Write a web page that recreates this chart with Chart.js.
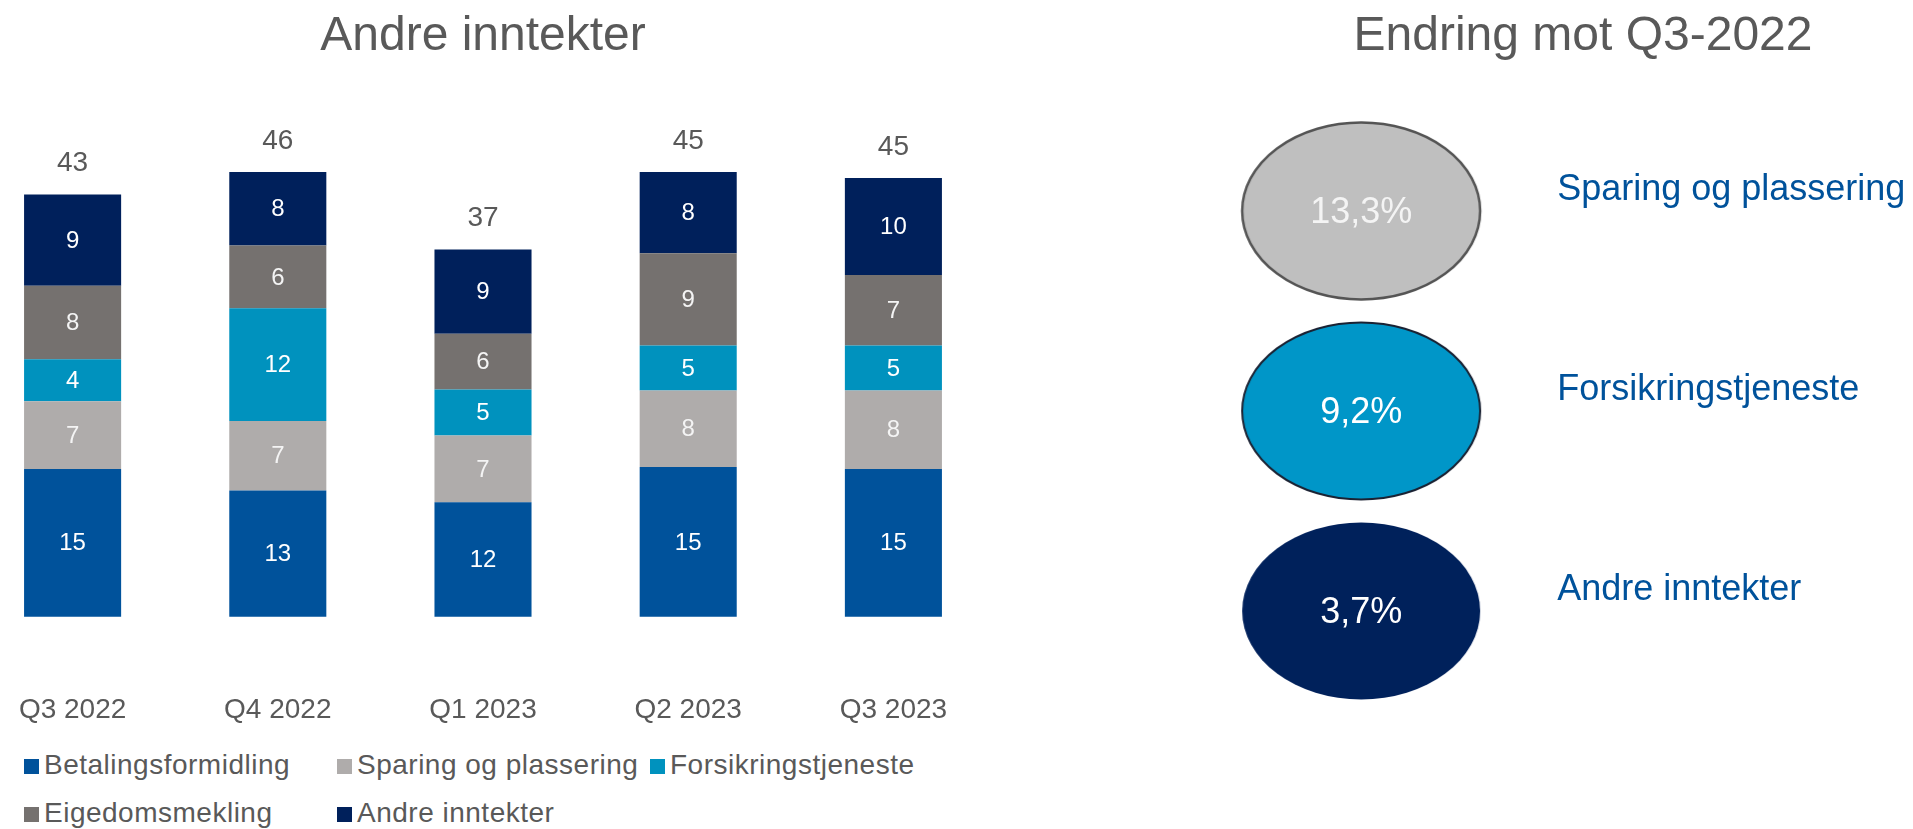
<!DOCTYPE html>
<html>
<head>
<meta charset="utf-8">
<title>Andre inntekter</title>
<script src="https://cdn.jsdelivr.net/npm/chart.js"></script>
<style>
  body { margin: 0; width: 1913px; height: 829px; overflow: hidden; background: #fff; position: relative;
         font-family: "Liberation Sans", Arial, sans-serif; }
  #bars { position: absolute; left: -30px; top: 0; }
  #change { position: absolute; left: 1200px; top: 0; }
  #legend { position: absolute; left: 24px; top: 741px; display: grid; grid-template-columns: 313px 313px 313px;
            color: #595959; font-size: 28px; letter-spacing: 0.5px; z-index: 2; }
  #legend div { height: 48px; line-height: 48px; white-space: nowrap; }
  #legend span { display: inline-block; width: 15px; height: 15px; margin-right: 5px; }
</style>
</head>
<body>
<canvas id="bars" width="1026" height="735"></canvas>
<canvas id="change" width="713" height="829"></canvas>
<div id="legend"></div>
<script>
// data
const quarters = ['Q3 2022', 'Q4 2022', 'Q1 2023', 'Q2 2023', 'Q3 2023'];
const betaling = [15.1, 12.9, 11.7, 15.3, 15.1];
const sparing = [6.9, 7.1, 6.8, 7.8, 8.0];
const forsikring = [4.3, 11.5, 4.7, 4.6, 4.6];
const eiendom = [7.5, 6.4, 5.7, 9.4, 7.2];
const andre = [9.3, 7.5, 8.6, 8.3, 9.9];
const totals = [43, 46, 37, 45, 45];

const changeLabels = ['Sparing og plassering', 'Forsikringstjeneste', 'Andre inntekter'];
const changeValues = [13.3, 9.2, 3.7];

const FONT = '"Liberation Sans", Arial, sans-serif';
const GREY_TEXT = '#595959';

// white numbers in each segment + totals above the stacks
const barLabels = {
    id: 'barLabels',
    afterDatasetsDraw(chart) {
        const ctx = chart.ctx;
        ctx.save();
        ctx.textAlign = 'center';
        ctx.textBaseline = 'middle';
        ctx.font = '24px ' + FONT;
        chart.data.datasets.forEach((ds, i) => {
            chart.getDatasetMeta(i).data.forEach((bar, j) => {
                ctx.fillStyle = ds.labelColor;
                ctx.fillText(Math.round(ds.data[j]), bar.x, (bar.y + bar.base) / 2 + 1);
            });
        });
        ctx.font = '28px ' + FONT;
        ctx.fillStyle = GREY_TEXT;
        chart.getDatasetMeta(chart.data.datasets.length - 1).data.forEach((bar, j) => {
            ctx.fillText(totals[j], bar.x, bar.y - 31);
        });
        ctx.restore();
    }
};

const barChart = new Chart(document.getElementById('bars'), {
    type: 'bar',
    data: {
        labels: quarters,
        datasets: [
            { label: 'Betalingsformidling', data: betaling, backgroundColor: '#00529b', labelColor: '#ffffff' },
            { label: 'Sparing og plassering', data: sparing, backgroundColor: '#afacab', labelColor: '#f4f4f4' },
            { label: 'Forsikringstjeneste', data: forsikring, backgroundColor: '#0092be', labelColor: '#ffffff' },
            { label: 'Eigedomsmekling', data: eiendom, backgroundColor: '#75716f', labelColor: '#f4f4f4' },
            { label: 'Andre inntekter', data: andre, backgroundColor: '#00205b', labelColor: '#ffffff' }
        ]
    },
    options: {
        responsive: false,
        animation: false,
        events: [],
        layout: { padding: 0 },
        datasets: { bar: { categoryPercentage: 1, barPercentage: 0.473 } },
        plugins: {
            legend: { display: false },
            tooltip: { enabled: false },
            title: {
                display: true,
                text: 'Andre inntekter',
                color: GREY_TEXT,
                font: { size: 48, family: FONT, weight: 'normal' },
                padding: { top: 8, bottom: 61.4 }
            }
        },
        scales: {
            x: {
                stacked: true,
                grid: { display: false, drawTicks: false },
                border: { display: false },
                ticks: { color: GREY_TEXT, font: { size: 28, family: FONT }, padding: 8, maxRotation: 0 }
            },
            // empty band below zero leaves the gap down to the quarter labels
            y: { stacked: true, display: false, min: -7, max: 50 }
        }
    },
    plugins: [barLabels]
});

// html legend in three columns, built from the datasets
const legendBox = document.getElementById('legend');
barChart.data.datasets.forEach(ds => {
    const item = document.createElement('div');
    const box = document.createElement('span');
    box.style.background = ds.backgroundColor;
    item.appendChild(box);
    item.appendChild(document.createTextNode(ds.label));
    legendBox.appendChild(item);
});

// ellipse markers for the right panel
function ellipseImage(fill, stroke, lineWidth) {
    const c = document.createElement('canvas');
    c.width = 244;
    c.height = 184;
    const g = c.getContext('2d');
    g.beginPath();
    g.ellipse(122, 92, 119, 88.5, 0, 0, Math.PI * 2);
    g.fillStyle = fill;
    g.fill();
    if (lineWidth) {
        g.lineWidth = lineWidth;
        g.strokeStyle = stroke;
        g.stroke();
    }
    return c;
}
const ellipses = [
    ellipseImage('#bfbfbf', '#555555', 2.5),
    ellipseImage('#0096c8', '#1a2233', 2),
    ellipseImage('#00215b', null, 0)
];

const changeText = {
    id: 'changeText',
    afterDatasetsDraw(chart) {
        const ctx = chart.ctx;
        ctx.save();
        ctx.font = '36px ' + FONT;
        ctx.textBaseline = 'middle';
        chart.getDatasetMeta(0).data.forEach((pt, i) => {
            ctx.textAlign = 'center';
            ctx.fillStyle = i === 0 ? '#f4f4f4' : '#ffffff';
            ctx.fillText(changeValues[i].toFixed(1).replace('.', ',') + '%', pt.x, pt.y + 2);
            ctx.textAlign = 'left';
            ctx.fillStyle = '#00529b';
            ctx.fillText(changeLabels[i], pt.x + 196, pt.y - 21);
        });
        ctx.restore();
    }
};

new Chart(document.getElementById('change'), {
    type: 'scatter',
    data: {
        datasets: [{
            data: changeValues.map((v, i) => ({ x: 0, y: i })),
            pointStyle: ellipses,
            pointRadius: 10,
            clip: false
        }]
    },
    options: {
        responsive: false,
        animation: false,
        events: [],
        layout: { padding: { left: 53, bottom: 218 } },
        plugins: {
            legend: { display: false },
            tooltip: { enabled: false },
            title: {
                display: true,
                text: 'Endring mot Q3-2022',
                color: GREY_TEXT,
                font: { size: 48, family: FONT, weight: 'normal' },
                padding: { top: 8, bottom: 145.4 }
            }
        },
        scales: {
            x: { display: false, min: -1, max: 5 },
            y: { display: false, min: 0, max: 2, reverse: true }
        }
    },
    plugins: [changeText]
});
</script>
</body>
</html>
